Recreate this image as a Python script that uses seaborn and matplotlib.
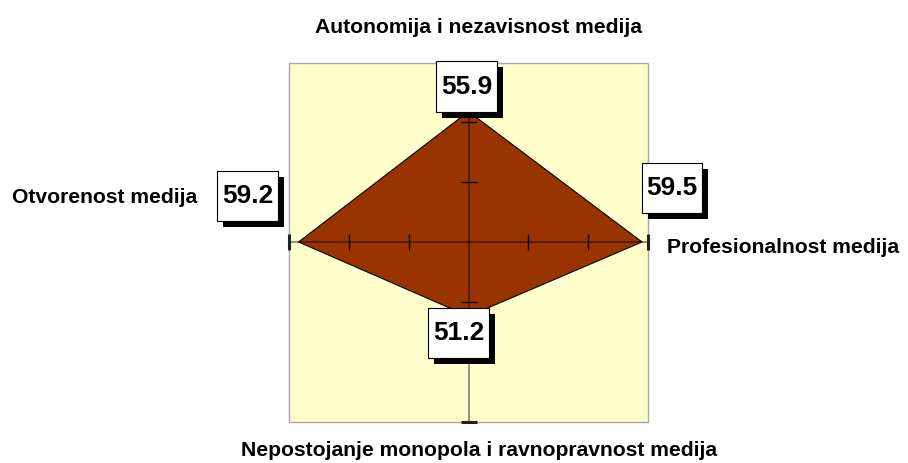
import numpy as np
import matplotlib
matplotlib.use("Agg")
import matplotlib.pyplot as plt
import matplotlib.patheffects as pe
from matplotlib import font_manager
from matplotlib.patches import Rectangle
from matplotlib.path import Path
import seaborn as sns

# data
categories = ["Autonomija i nezavisnost medija", "Profesionalnost medija",
              "Nepostojanje monopola i ravnopravnost medija", "Otvorenost medija"]
values = [55.9, 59.5, 51.2, 59.2]
r_min, r_max = 45, 60
ticks = [50, 55, 60]

sns.set_theme(style="white")
names = {f.name for f in font_manager.fontManager.ttflist}
narrow = "Liberation Sans Narrow" if "Liberation Sans Narrow" in names else "Liberation Sans"
plt.rcParams["font.family"] = ["Liberation Sans", "DejaVu Sans"]


def label_box(x0, y0, width, height, mutation_size):
    # plain rectangle, taller than wide padding like the excel labels
    px, py = 0.17 * mutation_size, 0.5 * mutation_size
    return Path([(x0 - px, y0 - py), (x0 + width + px, y0 - py),
                 (x0 + width + px, y0 + height + py), (x0 - px, y0 + height + py),
                 (x0 - px, y0 - py)], closed=True)


fig = plt.figure(figsize=(9.08, 4.63), dpi=100)
ax = fig.add_axes([289 / 908, 41 / 463, 359 / 908, 360 / 463], projection="polar")
ax.set_theta_zero_location("N")
ax.set_theta_direction(-1)
ax.grid(False)
ax.set_xticks([])
ax.set_yticks([])
ax.spines["polar"].set_visible(False)
ax.patch.set_visible(False)
ax.add_patch(Rectangle((0, 0), 1, 1, transform=ax.transAxes, facecolor="#FFFFCC",
                       edgecolor="#a8a8a8", lw=1, zorder=0, clip_on=False))

theta = np.linspace(0, 2 * np.pi, len(categories), endpoint=False)
t_closed = np.append(theta, theta[0])
v_closed = np.append(values, values[0])

ax.fill(t_closed, v_closed, facecolor="#993300", edgecolor="none", zorder=2)
sns.lineplot(x=t_closed, y=v_closed, sort=False, estimator=None, ax=ax,
             color="black", lw=0.8, zorder=3)

# axis lines and tick marks
for t in theta:
    ax.plot([t, t], [r_min, r_max], color="black", alpha=0.5, lw=1.2, zorder=4, clip_on=False)
    m = "|" if abs(np.sin(t)) > 0.5 else "_"
    ax.plot([t] * (len(ticks) - 1), ticks[:-1], ls="none", marker=m, ms=12, mew=1,
            color="black", zorder=5, clip_on=False)
    ax.plot([t], [ticks[-1]], ls="none", marker=m, ms=12, mew=2.2,
            color="#222222", zorder=5, clip_on=False)

ax.set_ylim(r_min, r_max)

# data labels, white box with a black drop shadow
offsets = [(-2, 25), (30, 54), (-10, -17), (-51, 46)]
for t, v, (dx, dy) in zip(theta, values, offsets):
    ann = ax.annotate(f"{v:.1f}", xy=(t, v), xytext=(dx, dy), textcoords="offset pixels",
                      ha="center", va="center", fontsize=19, weight="bold", color="black",
                      bbox=dict(boxstyle=label_box, fc="white", ec="black", lw=0.8),
                      zorder=7, annotation_clip=False)
    ann.get_bbox_patch().set_path_effects([
        pe.SimplePatchShadow(offset=(4.3, -4.3), shadow_rgbFace="black", alpha=1),
        pe.Normal()])

# category names
cat_font = dict(fontsize=15.2, weight="bold", family=[narrow, "DejaVu Sans"],
                color="black", transform=ax.transAxes)
ax.text(0.529, 1.083, categories[0], ha="center", va="baseline", **cat_font)
ax.text(1.053, 0.469, categories[1], ha="left", va="baseline", **cat_font)
ax.text(0.529, -0.097, categories[2], ha="center", va="baseline", **cat_font)
ax.text(-0.256, 0.608, categories[3], ha="right", va="baseline", **cat_font)

fig.savefig("out.png", dpi=100)
